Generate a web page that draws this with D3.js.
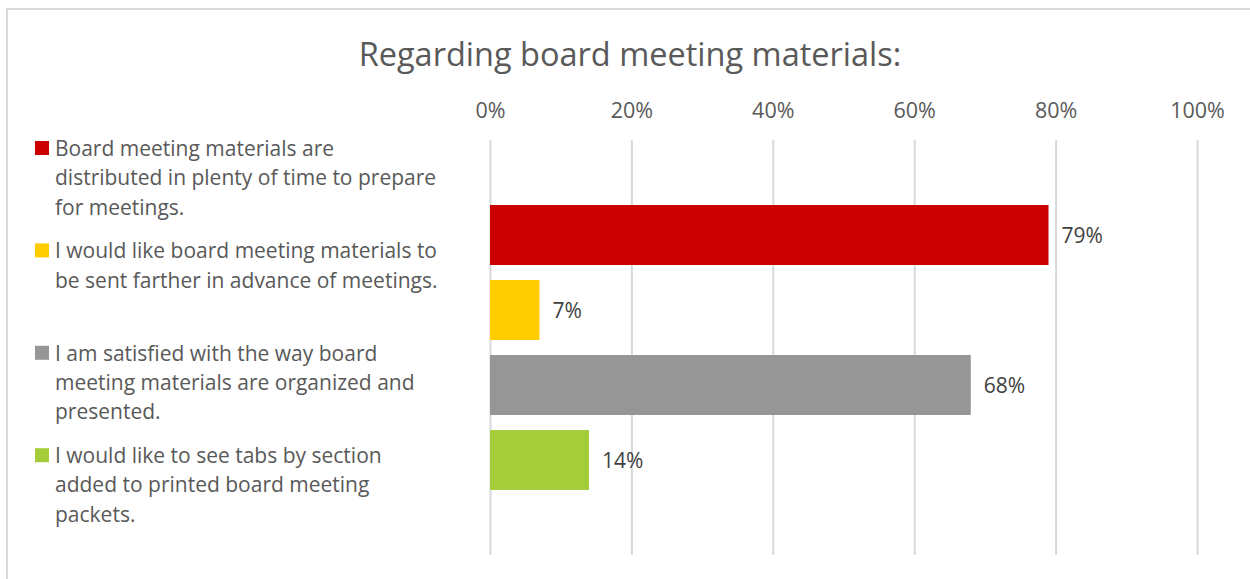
<!DOCTYPE html>
<html>
<head>
<meta charset="utf-8">
<script src="https://cdn.jsdelivr.net/npm/d3@7"></script>
<style>
  body { margin: 0; background: #fff; }
  text { font-family: "Open Sans", sans-serif; }
</style>
</head>
<body>
<div class="chart"></div>
<script>
// series names, one legend entry each (already wrapped as in the picture)
var labels = [
    ['Board meeting materials are', 'distributed in plenty of time to prepare', 'for meetings.'],
    ['I would like board meeting materials to', 'be sent farther in advance of meetings.'],
    ['I am satisfied with the way board', 'meeting materials are organized and', 'presented.'],
    ['I would like to see tabs by section', 'added to printed board meeting', 'packets.']
];
var values = [0.79, 0.07, 0.68, 0.14];
var colors = ['#cc0000', '#ffcc00', '#969696', '#a5cd39'];
var ticks  = [0, 0.2, 0.4, 0.6, 0.8, 1.0];

var W = 1250, H = 579;
var FONT = '"Open Sans", sans-serif';
var svg = d3.select('.chart').append('svg')
    .attr('width', W)
    .attr('height', H);

// chart frame (only top and left edges are in view)
svg.append('rect')
    .attr('x', 7).attr('y', 9)
    .attr('width', W + 20).attr('height', H + 20)
    .attr('fill', 'none')
    .attr('stroke', '#d9d9d9')
    .attr('stroke-width', 2);

// title
svg.append('text')
    .attr('x', 630).attr('y', 53)
    .attr('text-anchor', 'middle')
    .attr('dominant-baseline', 'central')
    .attr('fill', '#595959')
    .style('font-size', '32.5px')
    .text('Regarding board meeting materials:');

// scales
var plotTop = 140, plotBottom = 555;
var x = d3.scaleLinear()
    .domain([0, 1])
    .range([490, 1197]);
var idx = values.map((d, i) => i);
var y = d3.scaleBand()
    .domain(idx)
    .range([plotTop + 65, plotBottom - 65])
    .paddingInner(0.2);

// top axis labels + gridlines
var xAxis = svg.append('g')
    .attr('transform', 'translate(0,' + plotTop + ')')
    .call(d3.axisTop(x)
        .tickValues(ticks)
        .tickSize(-(plotBottom - plotTop))
        .tickPadding(22)
        .tickFormat(d3.format('.0%')));
xAxis.select('.domain').remove();
xAxis.selectAll('line')
    .attr('stroke', '#d9d9d9')
    .attr('stroke-width', 2);
xAxis.selectAll('text')
    .attr('fill', '#595959')
    .style('font-size', '21.5px')
    .style('font-family', FONT);

// bars
svg.selectAll('.bar')
    .data(values)
    .enter().append('rect')
    .attr('class', 'bar')
    .attr('x', x(0))
    .attr('y', (d, i) => y(i))
    .attr('width', (d) => x(d) - x(0))
    .attr('height', y.bandwidth())
    .attr('fill', (d, i) => colors[i]);

// value labels
svg.selectAll('.val')
    .data(values)
    .enter().append('text')
    .attr('class', 'val')
    .attr('x', (d) => x(d) + 13)
    .attr('y', (d, i) => y(i) + y.bandwidth() / 2)
    .attr('dominant-baseline', 'central')
    .attr('fill', '#404040')
    .style('font-size', '21px')
    .text((d) => d3.format('.0%')(d));

// legend
var legendTop = 148, slot = 102.4, lineH = 29.3;
var leg = svg.selectAll('.leg')
    .data(labels)
    .enter().append('g')
    .attr('class', 'leg')
    .attr('transform', (d, i) => 'translate(35,' + (legendTop + i * slot) + ')');
leg.append('rect')
    .attr('x', 0).attr('y', -7)
    .attr('width', 14).attr('height', 14)
    .attr('fill', (d, i) => colors[i]);
leg.append('text')
    .attr('fill', '#595959')
    .style('font-size', '21px')
    .selectAll('tspan')
    .data((d) => d)
    .enter().append('tspan')
    .attr('x', 20)
    .attr('y', (d, j) => j * lineH)
    .attr('dominant-baseline', 'central')
    .text((d) => d);
</script>
</body>
</html>
